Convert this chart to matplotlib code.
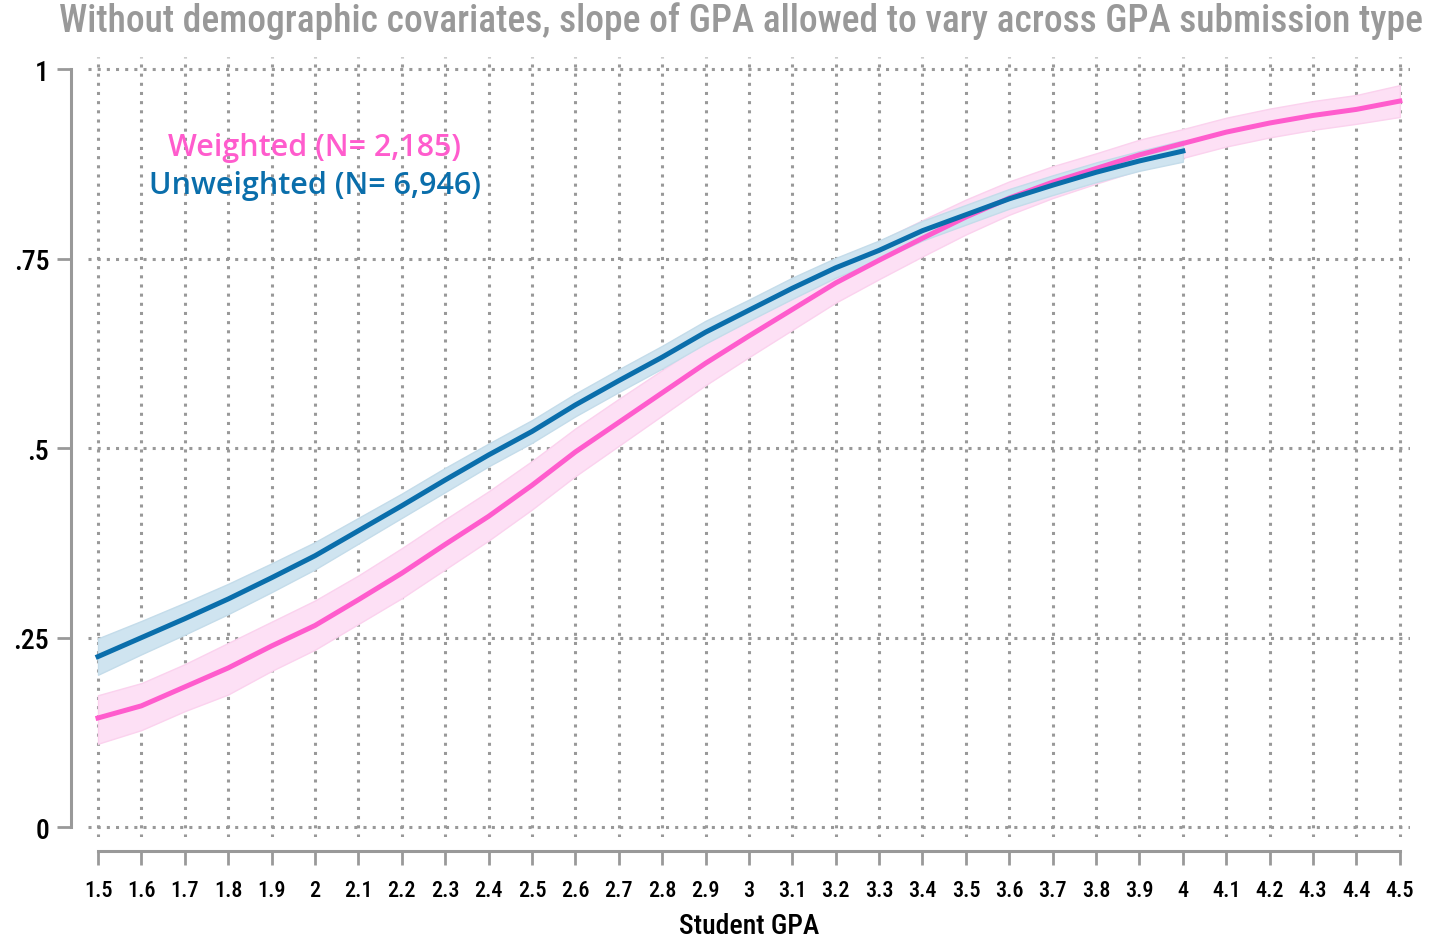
import matplotlib
matplotlib.use("Agg")
import matplotlib.pyplot as plt

# GPA grid
gpa_weighted = [1.5, 1.6, 1.7, 1.8, 1.9, 2.0, 2.1, 2.2, 2.3, 2.4, 2.5, 2.6, 2.7, 2.8, 2.9, 3.0,
                3.1, 3.2, 3.3, 3.4, 3.5, 3.6, 3.7, 3.8, 3.9, 4.0, 4.1, 4.2, 4.3, 4.4, 4.5]
gpa_unweighted = gpa_weighted[:26]

# Weighted (N= 2,185)
w_mid = [0.144, 0.160, 0.185, 0.210, 0.239, 0.266, 0.300, 0.335, 0.373, 0.410, 0.451, 0.495, 0.534,
         0.573, 0.612, 0.648, 0.683, 0.718, 0.748, 0.777, 0.805, 0.830, 0.851, 0.869, 0.887, 0.902,
         0.917, 0.929, 0.939, 0.947, 0.958]
w_lo = [0.110, 0.128, 0.153, 0.175, 0.206, 0.234, 0.268, 0.302, 0.340, 0.378, 0.419, 0.463, 0.503,
        0.543, 0.583, 0.620, 0.656, 0.692, 0.723, 0.753, 0.782, 0.808, 0.830, 0.849, 0.867, 0.883,
        0.898, 0.910, 0.920, 0.928, 0.937]
w_hi = [0.174, 0.190, 0.215, 0.243, 0.271, 0.299, 0.332, 0.368, 0.406, 0.443, 0.483, 0.526, 0.565,
        0.603, 0.641, 0.676, 0.710, 0.744, 0.773, 0.801, 0.828, 0.852, 0.872, 0.889, 0.907, 0.921,
        0.936, 0.948, 0.958, 0.966, 0.979]

# Unweighted (N= 6,946)
u_mid = [0.225, 0.250, 0.275, 0.301, 0.329, 0.358, 0.391, 0.424, 0.458, 0.491, 0.522, 0.557, 0.589,
         0.620, 0.653, 0.682, 0.711, 0.738, 0.761, 0.787, 0.808, 0.829, 0.847, 0.864, 0.879, 0.892]
u_lo = [0.201, 0.228, 0.254, 0.281, 0.310, 0.340, 0.374, 0.408, 0.442, 0.476, 0.507, 0.542, 0.574,
        0.605, 0.638, 0.668, 0.697, 0.725, 0.748, 0.774, 0.795, 0.816, 0.834, 0.851, 0.866, 0.878]
u_hi = [0.249, 0.272, 0.296, 0.321, 0.348, 0.376, 0.408, 0.440, 0.474, 0.506, 0.537, 0.572, 0.604,
        0.635, 0.668, 0.696, 0.725, 0.751, 0.774, 0.800, 0.821, 0.842, 0.860, 0.877, 0.892, 0.906]

x_ticks = gpa_weighted
x_labels = ['1.5', '1.6', '1.7', '1.8', '1.9', '2', '2.1', '2.2', '2.3', '2.4', '2.5', '2.6', '2.7',
            '2.8', '2.9', '3', '3.1', '3.2', '3.3', '3.4', '3.5', '3.6', '3.7', '3.8', '3.9', '4',
            '4.1', '4.2', '4.3', '4.4', '4.5']
y_ticks = [0, 0.25, 0.5, 0.75, 1]
y_labels = ['0', '.25', '.5', '.75', '1']

narrow = ['Roboto Condensed', 'DejaVu Sans']
legend_font = ['Open Sans', 'DejaVu Sans']
grey = '#999999'
pink, pink_band = '#ff5ccd', '#fde0f5'
blue, blue_band = '#0a6eab', '#cfe4f0'

fig = plt.figure(figsize=(14.43, 9.37), dpi=100)
ax = fig.add_axes([0.061, 0.1057, 0.916, 0.8323])

ax.fill_between(gpa_weighted, w_lo, w_hi, color=pink_band, lw=1, edgecolor='#fbd2ee', zorder=2)
ax.fill_between(gpa_unweighted, u_lo, u_hi, color=blue_band, lw=1, edgecolor='#c4dcea', zorder=2)
ax.plot(gpa_weighted, w_mid, color=pink, lw=3.6, zorder=4)
ax.plot(gpa_unweighted, u_mid, color=blue, lw=3.6, zorder=5)

ax.text(2.0, 0.897, 'Weighted (N= 2,185)', color=pink, fontsize=22, ha='center', va='center',
        family=legend_font, fontweight='semibold', zorder=6)
ax.text(2.0, 0.847, 'Unweighted (N= 6,946)', color=blue, fontsize=22, ha='center', va='center',
        family=legend_font, fontweight='semibold', zorder=6)

ax.set_xlim(1.477, 4.523)
ax.set_ylim(-0.013, 1.016)

ax.grid(True, color=grey, linestyle=(0, (1, 2)), linewidth=2.2, zorder=1)
ax.set_axisbelow(True)

for s in ['top', 'right']:
    ax.spines[s].set_visible(False)
ax.spines['left'].set_position(('outward', 12))
ax.spines['bottom'].set_position(('outward', 10))
ax.spines['left'].set_bounds(0, 1)
ax.spines['bottom'].set_bounds(1.5, 4.5)
for s in ['left', 'bottom']:
    ax.spines[s].set_color(grey)
    ax.spines[s].set_linewidth(2.2)
ax.tick_params(axis='both', colors=grey, width=2, length=10, labelcolor='black')
ax.tick_params(axis='x', pad=10, labelsize=16)
ax.tick_params(axis='y', pad=6, labelsize=20)

ax.set_xticks(x_ticks)
ax.set_xticklabels(x_labels, family=narrow, fontweight='medium')
ax.set_yticks(y_ticks)
ax.set_yticklabels(y_labels, family=narrow, fontweight='medium')

ax.set_xlabel('Student GPA', fontsize=20, family=narrow, fontweight='medium', labelpad=8)

fig.text(0.5135, 0.977, 'Without demographic covariates, slope of GPA allowed to vary across GPA submission type',
         color=grey, fontsize=27, ha='center', va='center', family=narrow, fontweight='medium')

fig.savefig('out.png', dpi=100)
